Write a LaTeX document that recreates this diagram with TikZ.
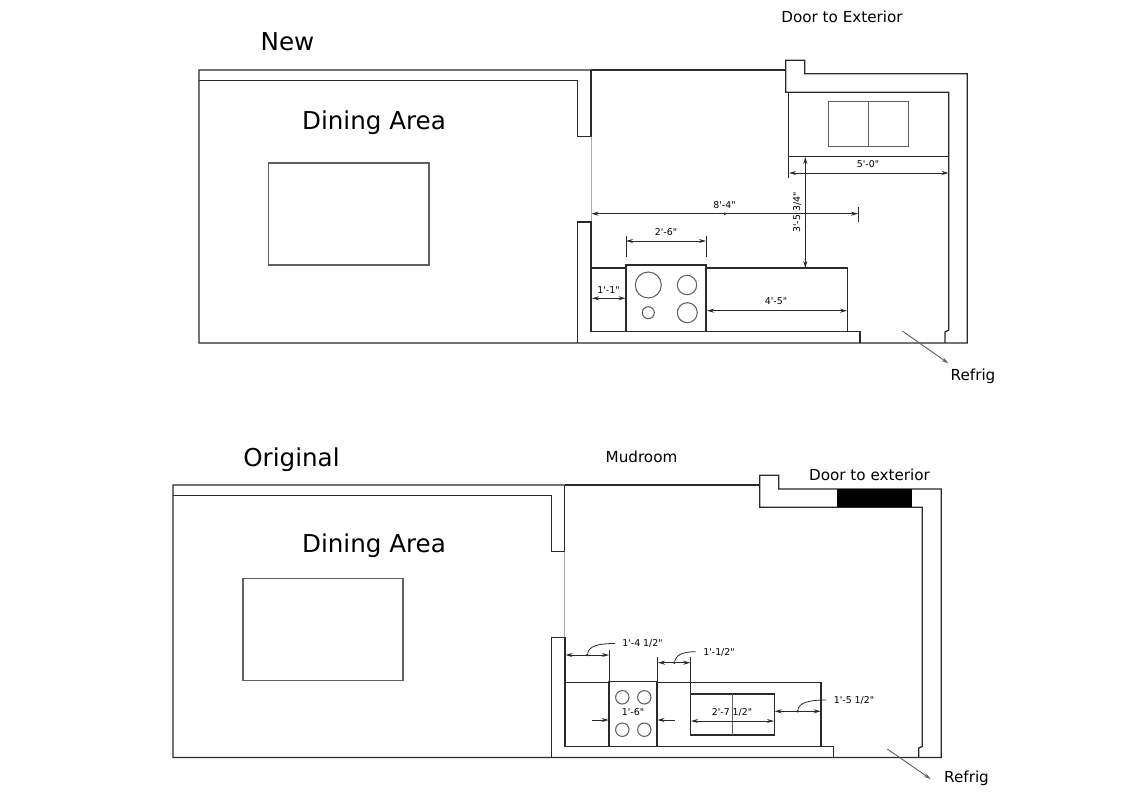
\documentclass[tikz,border=0pt]{standalone}
\usepackage{fontspec}
\setmainfont{DejaVu Sans}
\newfontfamily\plainf{DejaVu Sans}
\usetikzlibrary{arrows.meta}
\definecolor{wallc}{HTML}{2A2A2A}
\definecolor{thinc}{HTML}{606060}
\definecolor{faintc}{HTML}{ABABAB}
\tikzset{
  wall/.style={draw=wallc,line width=1.25pt,line join=miter},
  thin line/.style={draw=thinc,line width=1.05pt},
  faint/.style={draw=faintc,line width=1pt},
  dimen/.style={draw=wallc,line width=0.9pt,{Stealth[length=7pt,width=4pt]}-{Stealth[length=7pt,width=4pt]}},
  onearrow/.style={draw=wallc,line width=0.9pt,-{Stealth[length=7pt,width=4pt]}},
  ext/.style={draw=wallc,line width=0.9pt},
  leader/.style={draw=wallc,line width=0.8pt},
  dimtext/.style={font=\plainf\fontsize{9.4}{11}\selectfont,inner sep=0pt,text=black},
  title/.style={font=\fontsize{24.6}{28}\selectfont,inner sep=0pt,text=black},
  label/.style={font=\fontsize{15.2}{18}\selectfont,inner sep=0pt,text=black},
  ldot/.style={circle,fill=wallc,inner sep=0pt,minimum size=2.8pt},
}
\begin{document}
\begin{tikzpicture}[x=1pt,y=-1pt]
\useasboundingbox (0,0) rectangle (1132,800);
\fill[white] (0,0) rectangle (1132,800);

% ---------- NEW ----------
\node[title] (newtitle) at (287.5,42) {New};
\node[title] (dining1) at (374,122.5) {Dining Area};
\node[label] (doorA) at (842,17) {Door to Exterior};
\node[label] (refrigA) at (973,376) {Refrig};

\draw[wall] (591,70) -- (199,70) -- (199,343) -- (945,343) -- (967.3,343) -- (967.3,73.7) -- (804.7,73.7) -- (804.7,60.3) -- (785.7,60.3) -- (785.7,92.3) -- (948.7,92.3) -- (948.7,330) -- (945,332) -- (945,343);
\draw[wall] (591,70) -- (785.7,70);
\draw[wall] (199,80.5) -- (577.3,80.5) -- (577.3,136.7) -- (591,136.7) -- (591,70);
\draw[faint] (591,136.7) -- (591,222);
\draw[wall] (577.3,343) -- (577.3,222) -- (591,222) -- (591,331.7) -- (860,331.7) -- (860,343);
\draw[wall] (591,268) -- (626,268);
\draw[wall] (626,331.7) -- (626,265) -- (706,265) -- (706,331.7);
\draw[wall] (706,268) -- (847.3,268) -- (847.3,331.7);
\draw[wall] (788.7,92.3) -- (788.7,156.7) -- (948.7,156.7);
\draw[thin line] (268.5,163) rectangle (429,265);
\draw[thin line] (828.3,101.3) rectangle (908.7,146.7);
\draw[thin line] (868.7,101.3) -- (868.7,146.7);
\draw[thin line] (648.3,285) circle (13);
\draw[thin line] (687,285) circle (9.7);
\draw[thin line] (648.3,312.7) circle (6);
\draw[thin line] (687.3,312.7) circle (10);

\draw[ext] (788.7,156.7) -- (788.7,178);
\draw[dimen] (789,173) -- (948.5,173);
\node[dimtext] (d50) at (868,164) {5'-0"};
\draw[dimen] (805.3,157) -- (805.3,268);
\node[dimtext,rotate=90] (d35) at (797,212.5) {3'-5 3/4"};
\draw[dimen] (591.5,213.7) -- (858,213.7);
\draw[ext] (858,207) -- (858,221.7);
\node[ldot] (dot84) at (724.7,213.7) {};
\node[dimtext] (d84) at (724.5,205) {8'-4"};
\draw[ext] (626,235.7) -- (626,256.7);
\draw[ext] (706,235.7) -- (706,256.7);
\draw[dimen] (626,241) -- (706,241);
\node[dimtext] (d26) at (666,232.5) {2'-6"};
\draw[dimen] (592,298.3) -- (625.5,298.3);
\node[dimtext] (d11) at (608.5,290) {1'-1"};
\draw[dimen] (707,310.7) -- (847,310.7);
\node[dimtext] (d45) at (776,301.5) {4'-5"};
\coordinate (refA) at (902.3,331);
\draw[onearrow,draw=thinc] (refA) -- (948.3,363.3);

% ---------- ORIGINAL ----------
\node[title] (origtitle) at (291.5,459.5) {Original};
\node[title] (dining2) at (374,545.5) {Dining Area};
\node[label] (mud) at (641.5,456.5) {Mudroom};
\node[label] (doorB) at (869.5,474.5) {Door to exterior};
\node[label] (refrigB) at (966.5,778) {Refrig};

\draw[wall] (564.7,485) -- (173,485) -- (173,757.5) -- (918.7,757.5) -- (941.3,757.5) -- (941.3,489) -- (778.7,489) -- (778.7,475.3) -- (759.7,475.3) -- (759.7,507.3) -- (922.3,507.3) -- (922.3,746.5) -- (918.7,748) -- (918.7,757.5);
\draw[wall] (564.7,485) -- (759.7,485);
\fill[black] (836.7,489) rectangle (912.3,507.3);
\draw[wall] (173,495.3) -- (551.7,495.3) -- (551.7,551.7) -- (564.7,551.7) -- (564.7,485);
\draw[faint] (564.7,551.7) -- (564.7,637.7);
\draw[wall] (551.7,757.5) -- (551.7,637.7) -- (565,637.7) -- (565,746.7) -- (833.3,746.7) -- (833.3,757.5);
\draw[wall] (565,682.7) -- (609,682.7);
\draw[wall] (609,746.7) -- (609,681.7) -- (657,681.7) -- (657,746.7);
\draw[wall] (657,682.7) -- (821,682.7) -- (821,746.7);
\draw[thin line] (243,578.5) rectangle (403,680.5);
\draw[wall] (690.3,694) rectangle (774.3,735);
\draw[thin line] (732.7,694) -- (732.7,735);
\draw[thin line] (622.3,697.3) circle (6.7);
\draw[thin line] (644.3,697.3) circle (6.7);
\draw[thin line] (622.3,729.7) circle (6.7);
\draw[thin line] (644.3,729.7) circle (6.7);

\draw[ext] (565,650) -- (565,682);
\draw[ext] (609.5,650) -- (609.5,682);
\draw[dimen] (565.5,655) -- (609,655);
\node[ldot] (dotA) at (587.3,655) {};
\node[dimtext] (d14) at (642.5,643.5) {1'-4 1/2"};
\draw[leader] (dotA) .. controls (589,646) and (598,643.5) .. (615,643.5);
\draw[ext] (657.7,657.3) -- (657.7,682);
\draw[ext] (690.7,657.3) -- (690.7,694);
\draw[dimen] (658,662.7) -- (690.3,662.7);
\node[ldot] (dotB) at (674.3,662.7) {};
\node[dimtext] (d112) at (719,652) {1'-1/2"};
\draw[leader] (dotB) .. controls (676,655) and (683,651.7) .. (695.7,651.7);
\coordinate (sl) at (592.3,720);
\coordinate (sr) at (675,720);
\draw[onearrow] (sl) -- (608.7,720);
\draw[onearrow] (sr) -- (657.5,720);
\node[dimtext] (d16) at (633,711.7) {1'-6"};
\draw[dimen] (691,721) -- (774,721);
\node[dimtext] (d27) at (732,712.7) {2'-7 1/2"};
\draw[dimen] (774.7,711.3) -- (820.7,711.3);
\draw[ext] (774.3,707) -- (774.3,715);
\node[ldot] (dotC) at (797.7,711.3) {};
\node[dimtext] (d15) at (854,700.5) {1'-5 1/2"};
\draw[leader] (dotC) .. controls (799,703) and (808,700) .. (826,700);
\coordinate (refB) at (887.3,749);
\draw[onearrow,draw=thinc] (refB) -- (930.7,779);
\end{tikzpicture}
\end{document}
